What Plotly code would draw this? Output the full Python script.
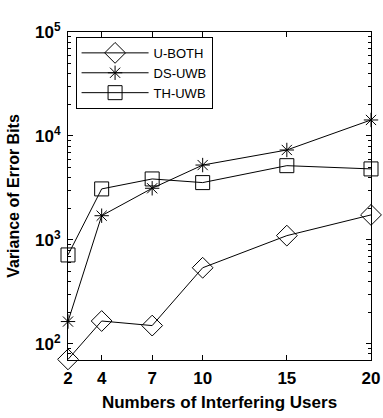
import plotly.graph_objects as go
import math

users = [2, 4, 7, 10, 15, 20]
u_both = [71, 166, 150, 540, 1100, 1740]
ds_uwb = [164, 1710, 3140, 5250, 7330, 14250]
th_uwb = [717, 3095, 3860, 3560, 5180, 4820]

x_ticks = [2, 4, 7, 10, 15, 20]
y_tickvals = [100, 1000, 10000, 100000]
y_ticktext = ["10<sup>2</sup>", "10<sup>3</sup>", "10<sup>4</sup>", "10<sup>5</sup>"]

FONT = "Arial, Liberation Sans, sans-serif"

fig = go.Figure()
series = [
    ("U-BOTH", u_both, "diamond-open", 16),
    ("DS-UWB", ds_uwb, "asterisk-open", 12),
    ("TH-UWB", th_uwb, "square-open", 14),
]
for name, vals, sym, sz in series:
    fig.add_trace(go.Scatter(
        x=users, y=vals, name=name, mode="lines+markers",
        line=dict(color="black", width=1),
        marker=dict(symbol=sym, size=sz, color="black", line=dict(color="black", width=1)),
        cliponaxis=False,
    ))

minor_vals = [m * 10 ** e for e in range(1, 5) for m in range(2, 10)]

fig.update_layout(
    width=383, height=418,
    margin=dict(l=68, r=12, t=32, b=58),
    paper_bgcolor="white", plot_bgcolor="white",
    showlegend=True,
    legend=dict(
        x=0.025, y=0.985, xanchor="left", yanchor="top",
        bgcolor="white", bordercolor="black", borderwidth=1,
        font=dict(family=FONT, size=13, color="black"),
        itemwidth=67, tracegroupgap=0,
    ),
    xaxis=dict(
        range=[2, 20], tickvals=x_ticks, automargin=False,
        ticks="inside", ticklen=5, tickcolor="black",
        showline=True, linecolor="black", linewidth=1, mirror="ticks",
        showgrid=False, zeroline=False,
        ticklabelstandoff=3,
        tickfont=dict(family=FONT, size=17, color="black", weight="bold"),
        title=dict(text="Numbers of Interfering Users",
                   font=dict(family=FONT, size=17, color="black", weight="bold"),
                   standoff=8),
    ),
    yaxis=dict(
        type="log", range=[math.log10(70), 5], automargin=False,
        tickvals=y_tickvals, ticktext=y_ticktext,
        ticks="inside", ticklen=5, tickcolor="black",
        showline=True, linecolor="black", linewidth=1, mirror="ticks",
        showgrid=False, zeroline=False,
        ticklabelstandoff=3,
        tickfont=dict(family=FONT, size=17, color="black", weight="bold"),
        minor=dict(tickvals=minor_vals, ticks="inside", ticklen=3, tickcolor="black", showgrid=False),
        title=dict(text="Variance of Error Bits",
                   font=dict(family=FONT, size=16, color="black", weight="bold"),
                   standoff=11),
    ),
)

fig.write_html(
    "out.html",
    config={"displayModeBar": False},
    post_script="document.body.style.margin='0';document.body.style.overflow='hidden';",
)
